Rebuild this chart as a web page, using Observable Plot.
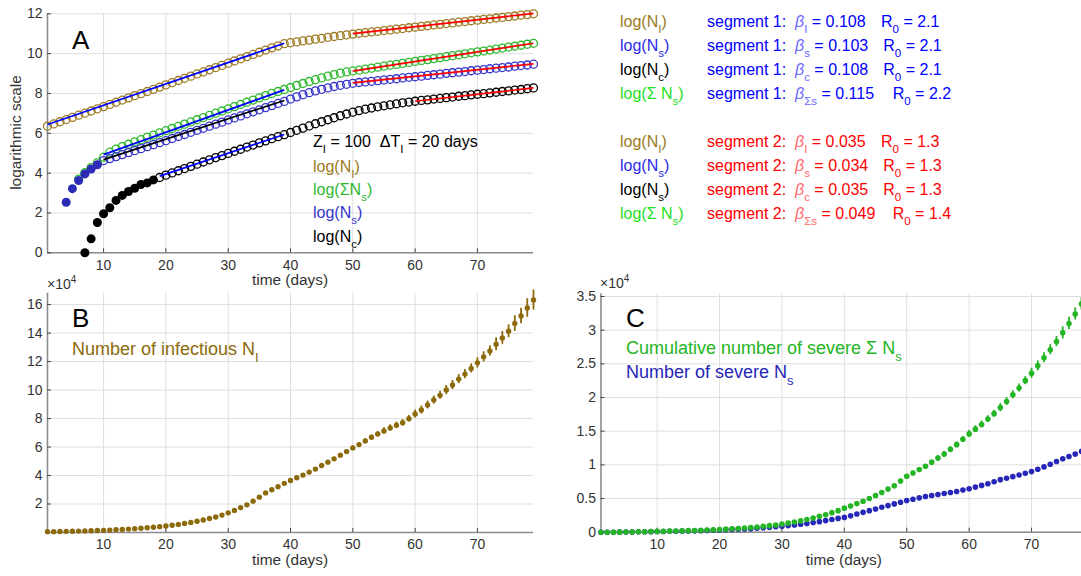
<!DOCTYPE html>
<html><head><meta charset="utf-8">
<script src="https://cdn.jsdelivr.net/npm/d3@7"></script>
<script src="https://cdn.jsdelivr.net/npm/@observablehq/plot@0.6"></script>
<style>
body{margin:0;background:#fff;}
#fig{position:relative;width:1081px;height:576px;overflow:hidden;background:#fff;}
.panel{position:absolute;}
.panel svg{max-width:none !important;}
#overlay{position:absolute;left:0;top:0;pointer-events:none;}
</style></head><body><div id="fig"></div>
<script>
// ---------------- data ----------------
const days = [1,2,3,4,5,6,7,8,9,10,11,12,13,14,15,16,17,18,19,20,21,22,23,24,25,26,27,28,29,30,31,32,33,34,35,36,37,38,39,40,41,42,43,44,45,46,47,48,49,50,51,52,53,54,55,56,57,58,59,60,61,62,63,64,65,66,67,68,69,70,71,72,73,74,75,76,77,78,79];
const xTicks = [10,20,30,40,50,60,70];
const yTicksA = [0,2,4,6,8,10,12];
const yTicksB = [2,4,6,8,10,12,14,16];
const yTicksC = [0,0.5,1,1.5,2,2.5,3,3.5];

// Panel A: natural logs
const logNI = [6.36,6.47,6.58,6.69,6.80,6.91,7.01,7.12,7.23,7.34,
 7.45,7.56,7.67,7.78,7.89,7.99,8.10,8.21,8.32,8.43,
 8.54,8.65,8.76,8.87,8.98,9.08,9.19,9.30,9.41,9.52,
 9.63,9.74,9.85,9.96,10.07,10.18,10.29,10.39,10.50,10.55,
 10.59,10.64,10.68,10.73,10.77,10.82,10.86,10.90,10.94,10.98,
 11.02,11.05,11.09,11.12,11.16,11.19,11.23,11.26,11.30,11.33,
 11.37,11.40,11.44,11.47,11.51,11.54,11.58,11.61,11.65,11.68,
 11.72,11.75,11.79,11.82,11.86,11.89,11.93,11.96,12.00];
const logSigmaNs = [null,null,null,null,null,3.70,4.02,4.28,4.52,4.80,
 5.05,5.21,5.33,5.45,5.57,5.68,5.80,5.91,6.02,6.13,
 6.24,6.35,6.46,6.57,6.68,6.79,6.90,7.01,7.12,7.23,
 7.34,7.45,7.56,7.67,7.78,7.89,8.00,8.10,8.20,8.30,
 8.40,8.50,8.60,8.69,8.78,8.87,8.95,9.02,9.08,9.13,
 9.17,9.22,9.27,9.32,9.37,9.42,9.46,9.51,9.56,9.61,
 9.66,9.70,9.75,9.80,9.85,9.90,9.94,9.99,10.04,10.09,
 10.13,10.18,10.23,10.28,10.33,10.37,10.42,10.47,10.52];
const logNs = [null,null,null,2.54,3.22,3.63,3.96,4.21,4.42,4.63,
 4.73,4.83,4.93,5.03,5.13,5.23,5.33,5.43,5.53,5.63,
 5.74,5.84,5.94,6.05,6.15,6.25,6.36,6.46,6.56,6.67,
 6.77,6.87,6.98,7.08,7.18,7.29,7.39,7.50,7.60,7.72,
 7.83,7.94,8.04,8.13,8.21,8.28,8.35,8.41,8.46,8.51,
 8.55,8.58,8.61,8.64,8.68,8.71,8.74,8.78,8.81,8.84,
 8.87,8.91,8.94,8.97,9.01,9.04,9.07,9.10,9.14,9.17,
 9.20,9.24,9.27,9.30,9.33,9.37,9.40,9.43,9.47];
const logNc = [null,null,null,null,null,null,0.00,0.70,1.52,1.96,
 2.26,2.63,2.88,3.08,3.24,3.43,3.51,3.66,3.78,3.90,
 4.01,4.12,4.23,4.34,4.45,4.56,4.67,4.78,4.88,4.99,
 5.10,5.20,5.31,5.41,5.52,5.62,5.73,5.83,5.93,6.04,
 6.15,6.26,6.37,6.48,6.58,6.68,6.78,6.88,6.97,7.06,
 7.14,7.21,7.27,7.33,7.38,7.43,7.48,7.53,7.57,7.61,
 7.65,7.68,7.72,7.75,7.79,7.82,7.86,7.89,7.93,7.96,
 7.99,8.03,8.06,8.10,8.13,8.17,8.20,8.24,8.28];
const nsOpenFrom = 10;   // earlier Ns points drawn filled
const ncOpenFrom = 19;   // earlier Nc points drawn filled

// fitted segments in panel A
const fitSeries = ["NI","SigmaNs","Ns","Nc","NI","SigmaNs","Ns","Nc"];
const fitSegment = [1,1,1,1,2,2,2,2];
const fitX1 = [1,10,10,19,50,50,50,60];
const fitY1 = [6.44,4.93,4.68,3.85,11.00,9.12,8.53,7.61];
const fitX2 = [39,39,39,39,79,79,79,79];
const fitY2 = [10.52,8.18,7.65,5.94,12.02,10.52,9.49,8.28];

// Panel B: infectious (x1e4)
const niCount = [0.06,0.06,0.07,0.08,0.09,0.10,0.11,0.12,0.14,0.15,
 0.17,0.19,0.21,0.24,0.27,0.30,0.33,0.37,0.41,0.46,
 0.51,0.57,0.63,0.71,0.79,0.88,0.98,1.09,1.22,1.38,
 1.55,1.74,1.94,2.20,2.48,2.78,3.00,3.22,3.45,3.65,
 3.84,4.03,4.24,4.45,4.70,4.94,5.17,5.43,5.68,5.94,
 6.17,6.43,6.69,6.92,7.13,7.34,7.53,7.70,7.99,8.32,
 8.60,8.95,9.30,9.63,10.00,10.35,10.77,11.12,11.52,11.91,
 12.33,12.75,13.22,13.66,14.13,14.67,15.20,15.76,16.32];
const niErr = [0.02,0.02,0.02,0.02,0.02,0.02,0.02,0.02,0.02,0.02,
 0.02,0.02,0.02,0.02,0.02,0.02,0.02,0.02,0.02,0.02,
 0.03,0.03,0.03,0.03,0.03,0.03,0.03,0.03,0.03,0.03,
 0.05,0.05,0.05,0.05,0.05,0.05,0.05,0.05,0.05,0.08,
 0.08,0.08,0.08,0.08,0.10,0.10,0.10,0.10,0.10,0.15,
 0.15,0.15,0.15,0.15,0.22,0.22,0.22,0.22,0.22,0.28,
 0.28,0.28,0.28,0.28,0.32,0.32,0.32,0.32,0.32,0.36,
 0.36,0.36,0.45,0.45,0.45,0.55,0.55,0.65,0.70];

// Panel C: severe (x1e4)
const sigmaNsCount = [0,0,0,0.001,0.002,0.004,0.006,0.007,0.009,0.012,
 0.014,0.016,0.018,0.020,0.023,0.026,0.029,0.032,0.036,0.040,
 0.045,0.050,0.056,0.063,0.070,0.078,0.087,0.097,0.108,0.120,
 0.135,0.150,0.168,0.188,0.210,0.235,0.260,0.290,0.320,0.357,
 0.390,0.425,0.460,0.500,0.545,0.590,0.640,0.690,0.760,0.830,
 0.880,0.930,0.980,1.040,1.100,1.160,1.230,1.300,1.380,1.460,
 1.530,1.600,1.680,1.760,1.850,1.940,2.040,2.140,2.250,2.360,
 2.470,2.590,2.710,2.830,2.960,3.100,3.240,3.390,3.550];
const sigmaNsErr = [0.005,0.005,0.005,0.005,0.005,0.005,0.005,0.005,0.005,0.005,
 0.005,0.005,0.005,0.005,0.005,0.005,0.005,0.005,0.005,0.005,
 0.005,0.005,0.005,0.005,0.005,0.005,0.005,0.005,0.005,0.005,
 0.005,0.005,0.005,0.005,0.005,0.005,0.005,0.005,0.005,0.01,
 0.01,0.01,0.01,0.01,0.01,0.01,0.01,0.01,0.01,0.025,
 0.025,0.025,0.025,0.025,0.04,0.04,0.04,0.04,0.04,0.05,
 0.05,0.05,0.05,0.05,0.06,0.06,0.06,0.06,0.06,0.075,
 0.075,0.075,0.075,0.075,0.09,0.09,0.09,0.09,0.09];
const nsCount = [0,0,0,0.001,0.002,0.004,0.005,0.007,0.008,0.010,
 0.011,0.013,0.014,0.016,0.018,0.020,0.022,0.025,0.028,0.031,
 0.035,0.039,0.043,0.048,0.053,0.059,0.065,0.072,0.080,0.089,
 0.098,0.108,0.118,0.130,0.143,0.157,0.172,0.188,0.205,0.220,
 0.245,0.270,0.295,0.320,0.345,0.370,0.395,0.420,0.445,0.470,
 0.490,0.510,0.530,0.545,0.560,0.575,0.590,0.605,0.625,0.645,
 0.670,0.695,0.720,0.750,0.780,0.800,0.825,0.850,0.875,0.900,
 0.935,0.970,1.010,1.050,1.090,1.125,1.160,1.200,1.240];
const nsErr = [0.005,0.005,0.005,0.005,0.005,0.005,0.005,0.005,0.005,0.005,
 0.005,0.005,0.005,0.005,0.005,0.005,0.005,0.005,0.005,0.005,
 0.005,0.005,0.005,0.005,0.005,0.005,0.005,0.005,0.005,0.005,
 0.005,0.005,0.005,0.005,0.005,0.005,0.005,0.005,0.005,0.005,
 0.005,0.005,0.005,0.005,0.005,0.005,0.005,0.005,0.005,0.01,
 0.01,0.01,0.01,0.01,0.01,0.01,0.01,0.01,0.01,0.01,
 0.01,0.01,0.01,0.01,0.01,0.01,0.01,0.01,0.01,0.02,
 0.02,0.02,0.02,0.02,0.02,0.02,0.02,0.02,0.02];

// text-block values
const blockLabels = ["log(N|I)","log(N|s)","log(N|c)","log(Σ N|s)","log(N|I)","log(N|s)","log(N|s)","log(Σ N|s)"];
const blockSegment = [1,1,1,1,2,2,2,2];
const blockBetaSub = ["I","s","c","Σs","I","s","c","Σs"];
const blockBeta = ["0.108","0.103","0.108","0.115","0.035","0.034","0.035","0.049"];
const blockR0 = ["2.1","2.1","2.1","2.2","1.3","1.3","1.3","1.4"];

// ---------------- styles ----------------
const FONT = '"Liberation Sans", Arial, Helvetica, sans-serif';
const C = {
  brownA: "#9c7b22", brownB: "#8c6a0a", greenA: "#2fb82f", blueA: "#3535cc", blueFill: "#2b2bb8",
  greenC: "#24b524", blueC: "#2626b8", black: "#000", fitBlue: "#0000ff", fitRed: "#ff0000",
  axis: "#8c8c8c", grid: "#dedede", tick: "#333"
};

function panel({width, height, ml, mr, mt, mb, yDomain, yTicks, yFmt, marks}) {
  const pw = width - ml - mr, ph = height - mt - mb;
  return Plot.plot({
    width, height, marginLeft: ml, marginRight: mr, marginTop: mt, marginBottom: mb,
    x: {domain: [1, 79]}, y: {domain: yDomain}, color: {type: "identity"},
    style: {background: "none", overflow: "visible", fontFamily: FONT, fontSize: "14px", color: C.tick, maxWidth: "none"},
    marks: [
      Plot.gridX({ticks: xTicks, stroke: C.grid, strokeOpacity: 1}),
      Plot.gridY({ticks: yTicks, stroke: C.grid, strokeOpacity: 1}),
      Plot.ruleX([1], {stroke: C.axis, strokeWidth: 1.6}),
      Plot.ruleY([yDomain[0]], {stroke: C.axis, strokeWidth: 1.6}),
      Plot.tickX(xTicks, {x: d => d, stroke: "#444", insetTop: ph - 4}),
      Plot.tickY(yTicks, {y: d => d, stroke: "#444", insetRight: pw - 4}),
      Plot.axisX({ticks: xTicks, tickSize: 0, tickPadding: 7, label: null, fontSize: 14, color: C.tick}),
      Plot.axisY({ticks: yTicks, tickSize: 0, tickPadding: 5, label: null, fontSize: 14, color: C.tick, tickFormat: yFmt}),
      ...marks
    ]
  });
}

const rowsA = days.map((d, i) => ({day: d, ni: logNI[i], sns: logSigmaNs[i], ns: logNs[i], nc: logNc[i]}));
const fits = fitSeries.map((s, i) => ({series: s, seg: fitSegment[i], x1: fitX1[i], y1: fitY1[i], x2: fitX2[i], y2: fitY2[i]}));
const fitColor = f => f.seg === 2 ? C.fitRed : (f.series === "Ns" ? C.black : C.fitBlue);

const rOpen = 4;
const sw = 1.3;
const plotA = panel({
  width: 560, height: 290, ml: 47, mr: 27, mt: 13.3, mb: 37.7,
  yDomain: [0, 12], yTicks: yTicksA,
  marks: [
    Plot.dot(rowsA.filter(r => r.nc != null && r.day >= ncOpenFrom), {x: "day", y: "nc", r: rOpen, stroke: C.black, strokeWidth: sw}),
    Plot.dot(rowsA.filter(r => r.nc != null && r.day < ncOpenFrom), {x: "day", y: "nc", r: 4.5, fill: C.black}),
    Plot.dot(rowsA.filter(r => r.sns != null), {x: "day", y: "sns", r: rOpen, stroke: C.greenA, strokeWidth: sw}),
    Plot.dot(rowsA.filter(r => r.ns != null && r.day >= nsOpenFrom), {x: "day", y: "ns", r: rOpen, stroke: C.blueA, strokeWidth: sw}),
    Plot.dot(rowsA.filter(r => r.ns != null && r.day < nsOpenFrom), {x: "day", y: "ns", r: 4.5, fill: C.blueFill}),
    Plot.dot(rowsA, {x: "day", y: "ni", r: rOpen, stroke: C.brownA, strokeWidth: sw}),
    Plot.link(fits, {x1: "x1", y1: "y1", x2: "x2", y2: "y2", stroke: fitColor, strokeWidth: 1.7})
  ]
});

const rowsB = days.map((d, i) => ({day: d, v: niCount[i], e: niErr[i]}));
const plotB = panel({
  width: 560, height: 306, ml: 47, mr: 27, mt: 22.7, mb: 44,
  yDomain: [0, 16.8], yTicks: yTicksB,
  marks: [
    Plot.ruleX(rowsB, {x: "day", y1: d => d.v - d.e, y2: d => d.v + d.e, stroke: C.brownB, strokeWidth: 1.8}),
    Plot.dot(rowsB, {x: "day", y: "v", r: 2.7, fill: C.brownB})
  ]
});

const rowsC = days.map((d, i) => ({day: d, s: sigmaNsCount[i], se: sigmaNsErr[i], n: nsCount[i], ne: nsErr[i]}));
const plotC = panel({
  width: 540, height: 306, ml: 40.5, mr: 12.8, mt: 23.3, mb: 44.3,
  yDomain: [0, 3.54], yTicks: yTicksC, yFmt: d => String(d),
  marks: [
    Plot.ruleX(rowsC, {x: "day", y1: d => d.n - d.ne, y2: d => d.n + d.ne, stroke: C.blueC, strokeWidth: 1.8}),
    Plot.dot(rowsC, {x: "day", y: "n", r: 2.8, fill: C.blueC}),
    Plot.ruleX(rowsC, {x: "day", y1: d => d.s - d.se, y2: d => d.s + d.se, stroke: C.greenC, strokeWidth: 1.8}),
    Plot.dot(rowsC, {x: "day", y: "s", r: 2.8, fill: C.greenC})
  ]
});

const fig = document.getElementById("fig");
function place(node, left, top, w, h) {
  const div = document.createElement("div");
  div.className = "panel";
  div.style.left = left + "px"; div.style.top = top + "px";
  div.style.width = w + "px"; div.style.height = h + "px";
  node.style.maxWidth = "none";
  node.setAttribute("width", w); node.setAttribute("height", h);
  div.appendChild(node); fig.appendChild(div);
}
place(plotA, 0, 0, 560, 290);
place(plotB, 0, 270, 560, 306);
place(plotC, 560, 270, 540, 306);

// ---------------- text overlay ----------------
const svg = d3.select(fig).append("svg").attr("id", "overlay")
  .attr("width", 1081).attr("height", 576)
  .style("font-family", FONT);

// parts: [text, kind("sub"|"sup"|null), color, italic]
function txt(x, y, parts, size, color, opt = {}) {
  const t = svg.append("text").attr("x", x).attr("y", y)
    .attr("font-size", size).attr("fill", color)
    .attr("xml:space", "preserve").style("white-space", "pre");
  if (opt.anchor) t.attr("text-anchor", opt.anchor);
  if (opt.rotate) t.attr("transform", `rotate(${opt.rotate},${x},${y})`);
  const subShift = opt.subShift ?? size * 0.38, supShift = size * 0.42;
  let shift = 0;
  for (const p of parts) {
    const [s, kind, col, ital] = Array.isArray(p) ? p : [p];
    const ts = t.append("tspan").text(s);
    const target = kind === "sub" ? subShift : kind === "sup" ? -supShift : 0;
    if (target !== shift) { ts.attr("dy", target - shift); shift = target; }
    if (kind) ts.attr("font-size", size * 0.72);
    if (col) ts.attr("fill", col);
    if (ital) ts.attr("font-style", "italic");
  }
  return t;
}
function labelParts(s) { // "log(N|I)" -> subscript after '|'
  const m = s.match(/^(.*)\|(.*)\)$/);
  return [[m[1]], [m[2], "sub"], [")"]];
}

const LBL = 15.4;
// Panel A
txt(72, 48.5, ["A"], 26, "#000");
txt(21, 132.5, ["logarithmic scale"], LBL, C.tick, {anchor: "middle", rotate: -90});
txt(290, 285, ["time (days)"], LBL, C.tick, {anchor: "middle"});
txt(313, 147.3, [["Z"], ["I", "sub"], [" = 100  ΔT"], ["I", "sub"], [" = 20 days"]], 16, "#000");
const legA = [["log(N|I)", C.brownA], ["log(ΣN|s)", C.greenA], ["log(N|s)", C.blueA], ["log(N|c)", C.black]];
const legAy = [171.7, 195, 218.3, 242.3];
legA.forEach(([s, col], i) => txt(313, legAy[i], labelParts(s), 16, col));

// Right text block
const blockY = [27.3, 51.3, 75.3, 99.3, 147.3, 171.2, 195, 218.7];
const blockLabelColor = [C.brownA, "#2a2ae6", "#000", "#22e022", C.brownA, "#2a2ae6", "#000", "#22e022"];
const rX = [881, 883.3, 883.3, 892.7, 881, 883.3, 883.3, 892.7];
blockLabels.forEach((s, i) => {
  const seg = blockSegment[i];
  const col = seg === 1 ? "#0000ff" : "#ff0000";
  const betaCol = seg === 1 ? "#6a6aff" : "#ff6a6a";
  txt(620, blockY[i], labelParts(s), 16, blockLabelColor[i]);
  txt(707, blockY[i], [`segment ${seg}:`], 16, col);
  txt(795, blockY[i], [["β", null, betaCol, true], [blockBetaSub[i], "sub", betaCol], [" = " + blockBeta[i]]], 16, col);
  txt(rX[i], blockY[i], [["R"], ["0", "sub"], [" = " + blockR0[i]]], 16, col);
});

// Panel B
txt(47, 289, [["×10"], ["4", "sup"]], 14, C.tick);
txt(72, 326.7, ["B"], 26, "#000");
txt(72, 355, [["Number of infectious N"], ["I", "sub"]], 18, C.brownB, {subShift: 7});
txt(290, 565, ["time (days)"], LBL, C.tick, {anchor: "middle"});

// Panel C
txt(600, 288, [["×10"], ["4", "sup"]], 14, C.tick);
txt(626, 326.7, ["C"], 26, "#000");
txt(626, 354, [["Cumulative number of severe Σ N"], ["s", "sub"]], 18, C.greenC, {subShift: 7});
txt(626, 378.3, [["Number of severe N"], ["s", "sub"]], 18, C.blueC, {subShift: 7});
txt(843.8, 565, ["time (days)"], LBL, C.tick, {anchor: "middle"});
</script>
</body></html>
